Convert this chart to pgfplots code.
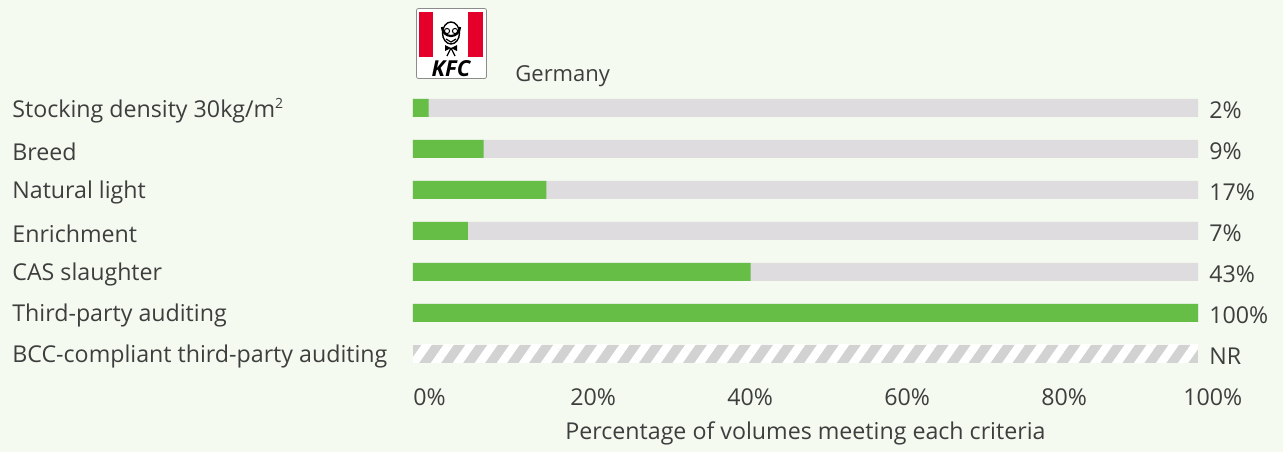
\documentclass[border=0pt]{standalone}
\usepackage{pgfplots}
\pgfplotsset{compat=1.18}
\usepackage{pgfplotstable}
\usepackage{fontspec}
\setmainfont{Open Sans}
\usetikzlibrary{patterns.meta,backgrounds}

\definecolor{bg}{RGB}{244,250,240}
\definecolor{bargreen}{RGB}{102,190,70}
\definecolor{track}{RGB}{222,220,222}
\definecolor{hatch}{RGB}{210,210,210}
\definecolor{txt}{RGB}{62,62,62}
\definecolor{kfcred}{RGB}{228,0,43}
\pagecolor{bg}

% row, share of volumes (%), full track
\pgfplotstableread{
row val full
0   2   100
1   9   100
2   17  100
3   7   100
4   43  100
5   100 100
}\scores

\begin{document}
\begin{tikzpicture}[text=txt, font=\fontsize{11.6}{13.9}\selectfont]
\begin{axis}[
  scale only axis, width=392.5pt, height=143.5pt,
  xmin=0, xmax=100, ymin=-0.5, ymax=6.5, y dir=reverse,
  enlargelimits=false, clip=false,
  axis line style={draw=none}, major tick length=0pt,
  /pgf/number format/assume math mode=true,
  xtick={0,20,...,100},
  xticklabels={0\%, 20\%, 40\%, 60\%, 80\%, \hspace*{-7.5pt}100\%},
  xticklabel style={anchor=west, inner sep=0pt, yshift=-11.5pt},
  ytick={0,...,6},
  yticklabels={Stocking density 30kg/m\textsuperscript{\scriptsize 2}, Breed, Natural light,
    Enrichment, CAS slaughter, Third-party auditing, BCC-compliant third-party auditing},
  yticklabel style={anchor=west, inner sep=0pt, xshift=-200.5pt, yshift=-1.2pt},
  xlabel={Percentage of volumes meeting each criteria},
  xlabel style={at={(axis description cs:0.5,0)}, anchor=center, yshift=-29.6pt},
  nodes near coords style={anchor=west, inner sep=0pt, xshift=5.5pt, yshift=-1.2pt},
]
% grey tracks with the value printed at the right end
\addplot[xbar, bar width=9pt, bar shift=0pt, fill=track, draw=none,
  point meta=explicit, nodes near coords={\pgfmathprintnumber{\pgfplotspointmeta}\%}]
  table[x=full, y=row, meta=val] {\scores};
% share meeting each criterion
\addplot[xbar, bar width=9pt, bar shift=0pt, fill=bargreen, draw=none]
  table[x=val, y=row] {\scores};
% not reported
\addplot[xbar, bar width=9pt, bar shift=0pt, draw=none,
  preaction={fill=hatch},
  pattern={Lines[angle=55, distance=9pt, line width=4.2pt]}, pattern color=white,
  nodes near coords={NR}]
  coordinates {(100,6)};

\coordinate (origin) at (axis cs:-52.611,-2.6341);
\end{axis}

% page background, px units from the top-left corner
\begin{scope}[on background layer, shift={(origin)}, x=0.5pt, y=-0.5pt]
  \fill[bg] (0,0) rectangle (1283,446);
\end{scope}

% logo and country
\begin{scope}[shift={(origin)}, x=0.5pt, y=-0.5pt]
  \filldraw[fill=white, draw=black!45, line width=0.4pt, rounded corners=1pt]
    (416.5,8.5) rectangle (486.5,78.5);
  \fill[kfcred] (418.5,11.5) rectangle (433,57);
  \fill[kfcred] (468,11.5) rectangle (483,57);
  % colonel
  \filldraw[fill=white, draw=black, line width=0.7pt] (451,33) ellipse (8.5 and 11);
  \draw[black, line width=1.1pt] (442,27) arc (180:0:9);
  \draw[black, line width=0.5pt] (447,31) circle (2.6) (455,31) circle (2.6);
  \draw[black, line width=0.6pt] (446,39) -- (451,42) -- (456,39);
  \fill[black] (451,48) -- (445,45) -- (445,51) -- cycle;
  \fill[black] (451,48) -- (457,45) -- (457,51) -- cycle;
  \draw[black, line width=0.6pt] (451,48) -- (447,56) (451,48) -- (455,56);
  \node[text=black, font=\fontsize{11}{12}\selectfont\bfseries\itshape, inner sep=0pt]
    at (451,69) {KFC};
  \node[anchor=west, inner sep=0pt, font=\fontsize{11}{13}\selectfont] at (515,76) {Germany};
\end{scope}
\end{tikzpicture}
\end{document}
